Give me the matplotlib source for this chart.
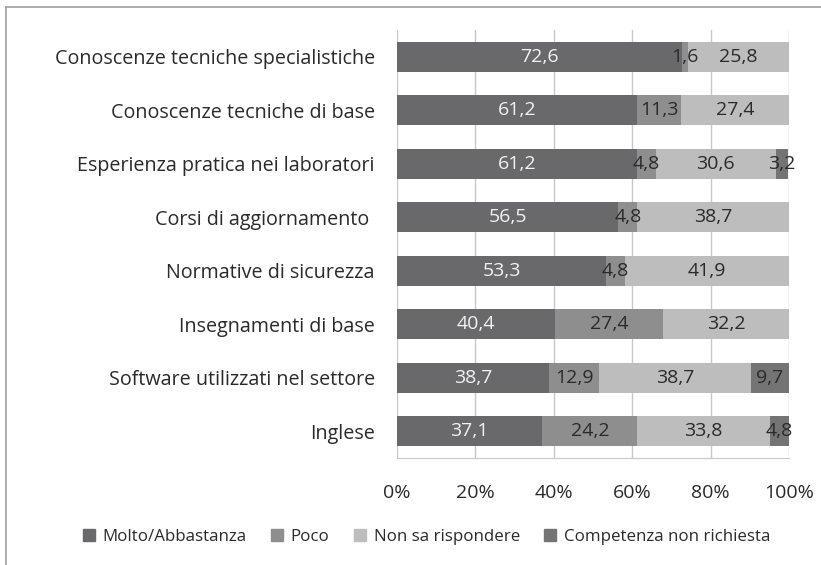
import numpy as np
import matplotlib as mpl
mpl.use('Agg')
import matplotlib.pyplot as plt
from matplotlib.lines import Line2D

categories = [
    "Conoscenze tecniche specialistiche",
    "Conoscenze tecniche di base",
    "Esperienza pratica nei laboratori",
    "Corsi di aggiornamento ",
    "Normative di sicurezza",
    "Insegnamenti di base",
    "Software utilizzati nel settore",
    "Inglese",
]
molto = [72.6, 61.2, 61.2, 56.5, 53.3, 40.4, 38.7, 37.1]
poco = [1.6, 11.3, 4.8, 4.8, 4.8, 27.4, 12.9, 24.2]
non_sa = [25.8, 27.4, 30.6, 38.7, 41.9, 32.2, 38.7, 33.8]
non_richiesta = [0, 0, 3.2, 0, 0, 0, 9.7, 4.8]

series_names = ["Molto/Abbastanza", "Poco", "Non sa rispondere", "Competenza non richiesta"]
colors = ["#69696b", "#8e8e8e", "#bdbdbd", "#747474"]
label_colors = ["#f2f2f2", "#2a2a2a", "#2a2a2a", "#2a2a2a"]

plt.rcParams['font.family'] = ['Open Sans', 'DejaVu Sans']

fig = plt.figure(figsize=(8.21, 5.65), dpi=100)
ax = fig.add_axes([397 / 821, 1 - 458 / 565, 392 / 821, 428 / 565])

y = np.arange(len(categories))
left = np.zeros(len(categories))
for vals, name, col, lcol in zip([molto, poco, non_sa, non_richiesta], series_names, colors, label_colors):
    vals = np.array(vals)
    ax.barh(y, vals, left=left, height=0.56, color=col, label=name, zorder=2)
    for yi, v, l in zip(y, vals, left):
        if v > 0:
            ax.text(l + v / 2, yi, ("%.1f" % v).replace(".", ","), ha="center", va="center",
                    color=lcol, fontsize=14, zorder=3)
    left = left + vals

ax.set_xlim(0, 100)
ax.set_ylim(7.5, -0.5)
ax.set_xticks(np.arange(0, 101, 20))
ax.set_xticklabels(["%d%%" % t for t in range(0, 101, 20)], fontsize=14, color="#2a2a2a")
ax.set_yticks(y)
ax.set_yticklabels(categories, fontsize=14.2, color="#2a2a2a")
ax.tick_params(length=0)
ax.tick_params(axis="y", pad=16)
ax.tick_params(axis="x", pad=19)
ax.grid(axis="x", color="#c8c8c8", linewidth=1, zorder=0)
for s in ["top", "right", "left"]:
    ax.spines[s].set_visible(False)
ax.spines["bottom"].set_color("#c8c8c8")

handles = [Line2D([0], [0], marker="s", linestyle="none", markersize=8, markerfacecolor=c,
                  markeredgecolor=c) for c in colors]
fig.legend(handles, series_names, loc="center", bbox_to_anchor=(0.513, 1 - 537 / 565), ncol=4,
           frameon=False, fontsize=12.2, handletextpad=-0.2, columnspacing=0.8, labelcolor="#2a2a2a")

# outer frame (top and left)
fig.add_artist(Line2D([6 / 821, 1], [1 - 7 / 565, 1 - 7 / 565], color="#a0a0a0", linewidth=1.2))
fig.add_artist(Line2D([6 / 821, 6 / 821], [0, 1 - 7 / 565], color="#a0a0a0", linewidth=1.2))

fig.savefig("out.png", dpi=100)
